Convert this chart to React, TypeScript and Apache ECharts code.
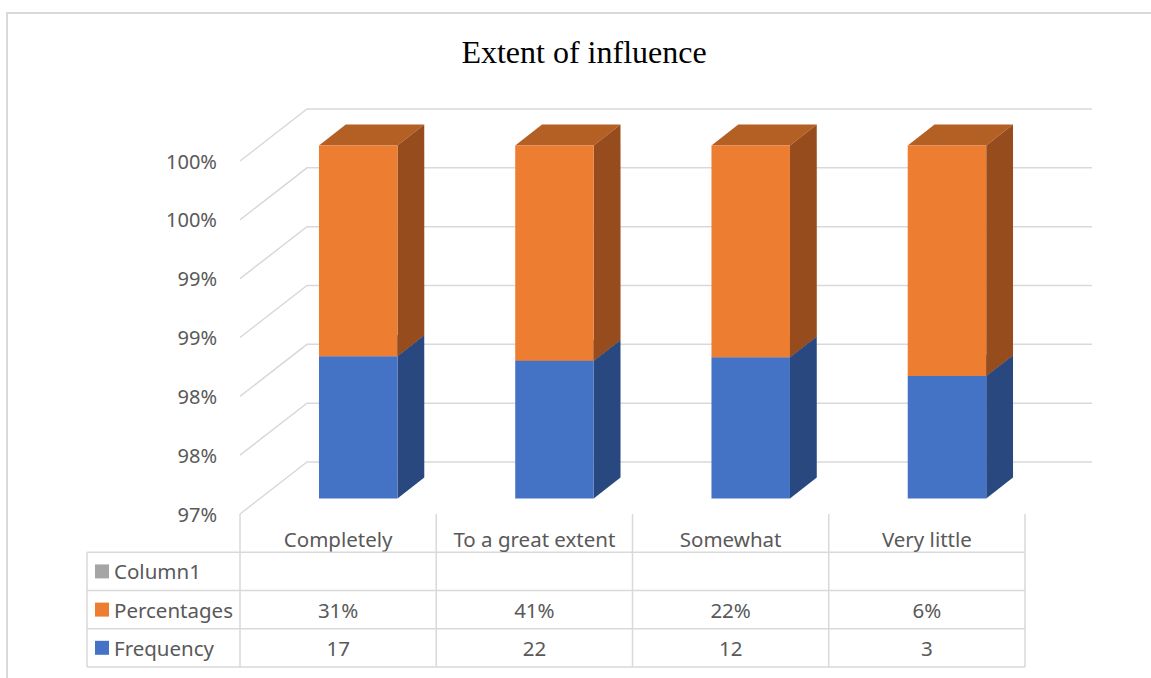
import { useEffect, useRef } from "react";
import * as echarts from "echarts";

// Chart data
const categories = ["Completely", "To a great extent", "Somewhat", "Very little"];
const frequency = [17, 22, 12, 3];
const percentages = [0.31, 0.41, 0.22, 0.06];
const column1: (number | null)[] = [null, null, null, null];
const axisTicks = [0.97, 0.975, 0.98, 0.985, 0.99, 0.995, 1.0];

const AXIS_MIN = 0.97;
const AXIS_MAX = 1.0;
const AXIS_STEP = 0.005;

// 3D projection: offset from front plane to back wall
const DX = 67;
const DY = -52;
const DEPTH_FRONT = 0.3;
const DEPTH_BACK = 0.7;
const BAR_RATIO = 0.4;

const GRID_LINE = "#d9d9d9";
const TEXT = "#595959";
const FONT = '"Noto Sans", "Open Sans", sans-serif';

const COLORS = {
  frequency: { front: "#4472c4", side: "#2a4880", top: "#335aa0" },
  percentages: { front: "#ed7d31", side: "#974c1d", top: "#b45f23" },
  column1: "#a5a5a5",
};

// 100% stacked shares
const totals = categories.map((_, i) => frequency[i] + percentages[i] + (column1[i] ?? 0));
const freqShare = frequency.map((f, i) => f / totals[i]);

const fmtPct = (v: number) => `${Math.round(v * 100)}%`;

const tableRows = [
  { name: "Column1", color: COLORS.column1, cells: column1.map((v) => (v == null ? "" : String(v))) },
  { name: "Percentages", color: COLORS.percentages.front, cells: percentages.map(fmtPct) },
  { name: "Frequency", color: COLORS.frequency.front, cells: frequency.map(String) },
];

// table layout relative to the floor line of the plot
const HEADER_MID = 25;
const ROW_H = 38.2;
const FIRST_ROW = 38.3;
const LEGEND_LEFT = 87;

function cube(api: any, c: { front: string; side: string; top: string }) {
  const cat = api.value(0);
  const [cx, yLo] = api.coord([cat, api.value(1)]);
  const [, yHi] = api.coord([cat, api.value(2)]);
  const band = api.size([1, 0])[0];
  const w = band * BAR_RATIO;
  const fx = cx - w / 2 + DX * DEPTH_FRONT;
  const y0 = yLo + DY * DEPTH_FRONT;
  const y1 = yHi + DY * DEPTH_FRONT;
  const ddx = DX * (DEPTH_BACK - DEPTH_FRONT);
  const ddy = DY * (DEPTH_BACK - DEPTH_FRONT);
  return {
    type: "group",
    children: [
      {
        type: "polygon",
        shape: { points: [[fx, y1], [fx + ddx, y1 + ddy], [fx + w + ddx, y1 + ddy], [fx + w, y1]] },
        style: { fill: c.top },
      },
      {
        type: "polygon",
        shape: { points: [[fx + w, y0], [fx + w + ddx, y0 + ddy], [fx + w + ddx, y1 + ddy], [fx + w, y1]] },
        style: { fill: c.side },
      },
      { type: "rect", shape: { x: fx, y: y1, width: w, height: y0 - y1 }, style: { fill: c.front } },
    ],
  };
}

function wallLine(_params: any, api: any) {
  const [x0, y] = api.coord([0, api.value(1)]);
  const band = api.size([1, 0])[0];
  const left = x0 - band / 2;
  const right = left + band * categories.length;
  return {
    type: "polyline",
    shape: { points: [[left, y], [left + DX, y + DY], [right + DX, y + DY]] },
    style: { stroke: GRID_LINE, lineWidth: 1.5, fill: null },
  };
}

function tableColumn(params: any, api: any) {
  const i = api.value(0);
  const [cx, y0] = api.coord([i, AXIS_MIN]);
  const band = api.size([1, 0])[0];
  const left = cx - band / 2;
  const bottom = y0 + FIRST_ROW + ROW_H * tableRows.length;
  const lineStyle = { stroke: GRID_LINE, lineWidth: 1.5 };
  const txt = (x: number, y: number, text: string, align = "center") => ({
    type: "text",
    x,
    y,
    style: { text, fill: TEXT, fontSize: 20.5, fontFamily: FONT, align, verticalAlign: "middle" },
  });
  const children: any[] = [
    { type: "line", shape: { x1: left, y1: y0, x2: left, y2: bottom }, style: lineStyle },
    txt(cx, y0 + HEADER_MID, categories[i]),
  ];
  tableRows.forEach((row, r) => {
    children.push(txt(cx, y0 + FIRST_ROW + ROW_H * (r + 0.5), row.cells[i]));
  });
  if (i === categories.length - 1) {
    children.push({ type: "line", shape: { x1: left + band, y1: y0, x2: left + band, y2: bottom }, style: lineStyle });
  }
  if (params.dataIndex === 0) {
    const right = left + band * categories.length;
    for (let r = 0; r <= tableRows.length; r++) {
      const y = y0 + FIRST_ROW + ROW_H * r;
      children.push({ type: "line", shape: { x1: LEGEND_LEFT, y1: y, x2: right, y2: y }, style: lineStyle });
    }
    children.push({
      type: "line",
      shape: { x1: LEGEND_LEFT, y1: y0 + FIRST_ROW, x2: LEGEND_LEFT, y2: bottom },
      style: lineStyle,
    });
    tableRows.forEach((row, r) => {
      const ym = y0 + FIRST_ROW + ROW_H * (r + 0.5);
      children.push({ type: "rect", shape: { x: LEGEND_LEFT + 8, y: ym - 7, width: 14, height: 14 }, style: { fill: row.color } });
      children.push(txt(LEGEND_LEFT + 27, ym, row.name, "left"));
    });
  }
  return { type: "group", children };
}

export default function App() {
  const ref = useRef<HTMLDivElement>(null);

  useEffect(() => {
    if (!ref.current) return;
    const chart = echarts.init(ref.current, null, { renderer: "svg" });
    chart.setOption({
      animation: false,
      backgroundColor: "#ffffff",
      grid: { left: 240, top: 161, width: 785, height: 353 },
      xAxis: { type: "category", data: categories, show: false },
      yAxis: {
        type: "value",
        min: AXIS_MIN,
        max: AXIS_MAX,
        interval: AXIS_STEP,
        axisLine: { show: false },
        axisTick: { show: false },
        splitLine: { show: false },
        axisLabel: {
          margin: 23,
          color: TEXT,
          fontSize: 20,
          fontFamily: FONT,
          formatter: (v: number) => `${Math.round(Math.round(v * 1000) / 10)}%`,
        },
      },
      graphic: [
        {
          type: "polyline",
          shape: { points: [[7, 678], [7, 13], [1151, 13]] },
          style: { stroke: GRID_LINE, lineWidth: 2, fill: null },
        },
        {
          type: "text",
          x: 584,
          y: 52,
          style: {
            text: "Extent of influence",
            fill: "#000000",
            fontSize: 32,
            fontFamily: '"Liberation Serif", "Times New Roman", serif',
            align: "center",
            verticalAlign: "middle",
          },
        },
      ],
      series: [
        {
          type: "custom",
          name: "walls",
          clip: false,
          silent: true,
          encode: { x: 0, y: 1 },
          data: axisTicks.map((v) => [0, v]),
          renderItem: wallLine,
        },
        {
          type: "custom",
          name: "Frequency",
          clip: false,
          encode: { x: 0, y: [1, 2] },
          data: categories.map((_, i) => [i, AXIS_MIN, freqShare[i]]),
          renderItem: (_p: any, api: any) => cube(api, COLORS.frequency),
        },
        {
          type: "custom",
          name: "Percentages",
          clip: false,
          encode: { x: 0, y: [1, 2] },
          data: categories.map((_, i) => [i, freqShare[i], AXIS_MAX]),
          renderItem: (_p: any, api: any) => cube(api, COLORS.percentages),
        },
        {
          type: "custom",
          name: "Column1",
          clip: false,
          encode: { x: 0, y: 1 },
          data: [],
          renderItem: () => ({ type: "group", children: [] }),
        },
        {
          type: "custom",
          name: "table",
          clip: false,
          silent: true,
          encode: { x: 0, y: 1 },
          data: categories.map((_, i) => [i, AXIS_MIN]),
          renderItem: tableColumn,
        },
      ],
    });
    return () => chart.dispose();
  }, []);

  return <div ref={ref} style={{ position: "absolute", left: 0, top: 0, width: 1151, height: 678 }} />;
}
